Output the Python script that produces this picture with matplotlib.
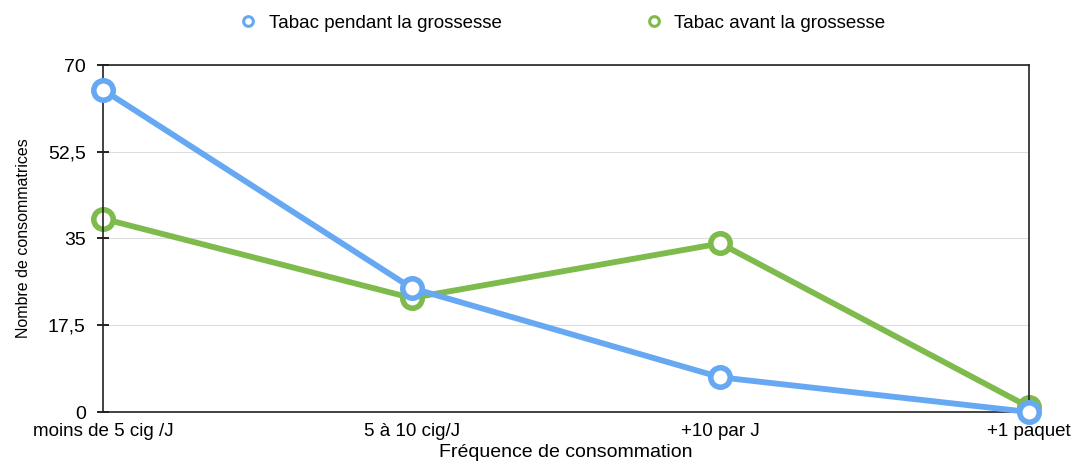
import numpy as np
import matplotlib.pyplot as plt

plt.rcParams['font.family'] = ['Liberation Sans', 'DejaVu Sans']

# Data
categories = ["moins de 5 cig /J", "5 à 10 cig/J", "+10 par J", "+1 paquet"]
pendant = [65, 25, 7, 0]
avant = [39, 23, 34, 1]
yticks = [0, 17.5, 35, 52.5, 70]
ytick_labels = ["0", "17,5", "35", "52,5", "70"]

blue = "#67a8f2"
green = "#7fba4c"

fig = plt.figure(figsize=(10.79, 4.65), dpi=100)
ax = fig.add_axes([103 / 1079, 1 - 412 / 465, 926 / 1079, 347 / 465])

x = np.arange(len(categories))
ax.plot(x, pendant, color=blue, lw=4.2, marker="o", ms=14, mew=4,
        mfc="white", mec=blue, label="Tabac pendant la grossesse", zorder=3,
        clip_on=False)
ax.plot(x, avant, color=green, lw=4.2, marker="o", ms=14, mew=4,
        mfc="white", mec=green, label="Tabac avant la grossesse", zorder=2,
        clip_on=False)

ax.set_xlim(0, 3)
ax.set_ylim(0, 70)
ax.set_xticks(x)
ax.set_xticklabels(categories, fontsize=13.5)
ax.set_yticks(yticks)
ax.set_yticklabels(ytick_labels, fontsize=14)
ax.tick_params(axis="y", direction="inout", length=9, width=1.2, pad=8)
ax.tick_params(axis="x", length=0, pad=8)
ax.grid(axis="y", color="#dddddd", lw=0.8)
ax.set_axisbelow(True)
for s in ax.spines.values():
    s.set_color("#222222")
    s.set_linewidth(1.2)

ax.set_xlabel("Fréquence de consommation", fontsize=14, labelpad=3)
ax.set_ylabel("Nombre de consommatrices", fontsize=11.5, labelpad=12)

leg = fig.legend(loc="upper left", bbox_to_anchor=(222 / 1079, 1.005), ncol=2,
                 frameon=False, fontsize=13.5, markerscale=0.5,
                 handlelength=1.0, handletextpad=0.6, columnspacing=7.6)
for h in leg.legend_handles:
    h.set_linestyle("none")
    h.set_markeredgewidth(2.2)

fig.savefig("out.png", dpi=100)
